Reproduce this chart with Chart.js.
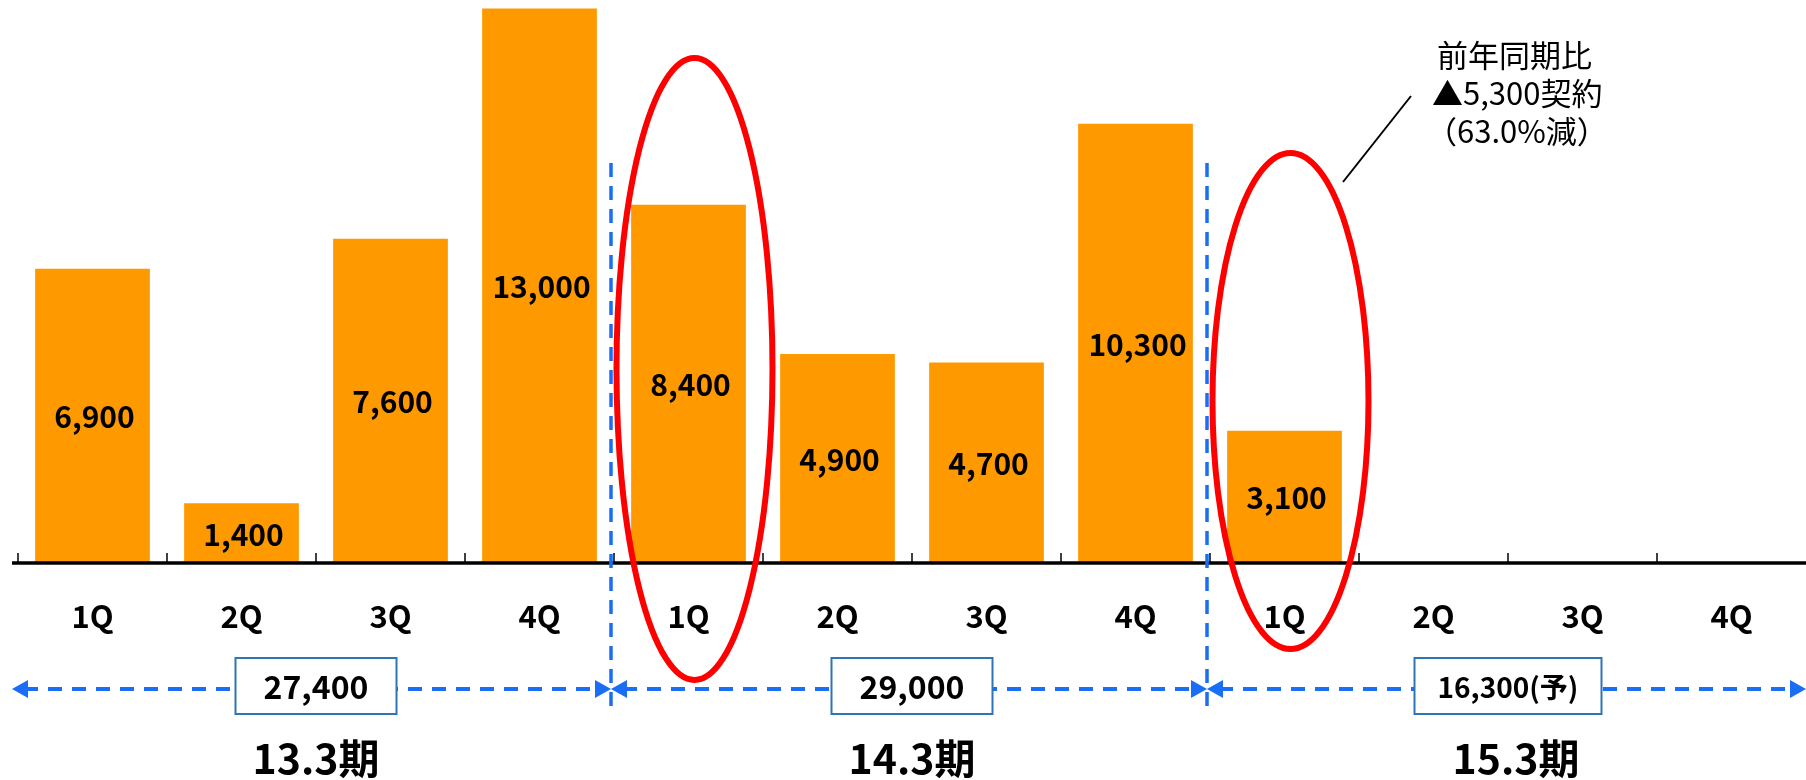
<!DOCTYPE html>
<html>
<head>
<meta charset="utf-8">
<script src="https://cdn.jsdelivr.net/npm/chart.js@4.4.1/dist/chart.umd.min.js"></script>
<style>
html, body { margin: 0; padding: 0; background: #fff; }
#wrap { width: 1806px; height: 780px; position: relative; }
</style>
</head>
<body>
<div id="wrap"><canvas id="contractChart"></canvas></div>
<script>
// quarterly contracts, three fiscal periods
const quarters = ['1Q', '2Q', '3Q', '4Q', '1Q', '2Q', '3Q', '4Q', '1Q', '2Q', '3Q', '4Q'];
const contracts = [6900, 1400, 7600, 13000, 8400, 4900, 4700, 10300, 3100, null, null, null];
const periods = ['13.3期', '14.3期', '15.3期'];
const periodTotals = ['27,400', '29,000', '16,300(予)'];
const noteLines = ['前年同期比', '▲5,300契約', '（63.0%減）'];
const circled = [4, 8];

const BLUE = '#1a6ef5';
const NUM_FONT = '"Noto Sans CJK JP", "DejaVu Sans", sans-serif';
const JP_FONT = '"Noto Sans CJK JP", sans-serif';

function arrowHead(ctx, x, y, dir) {
    ctx.beginPath();
    ctx.moveTo(x, y);
    ctx.lineTo(x - dir * 16, y - 9);
    ctx.lineTo(x - dir * 16, y + 9);
    ctx.closePath();
    ctx.fill();
}

const overlayPlugin = {
    id: 'overlay',
    afterDatasetsDraw(chart) {
        const ctx = chart.ctx;
        const meta = chart.getDatasetMeta(0);
        ctx.save();
        ctx.font = 'bold 30px ' + NUM_FONT;
        ctx.fillStyle = '#000';
        ctx.textAlign = 'center';
        ctx.textBaseline = 'middle';
        meta.data.forEach((bar, i) => {
            if (contracts[i] == null) return;
            ctx.fillText(contracts[i].toLocaleString('en-US'), bar.x + 2, (bar.y + bar.base) / 2 + 1);
        });
        ctx.restore();
    },
    afterDraw(chart) {
        const { ctx, chartArea, scales: { x } } = chart;
        const step = x.getPixelForValue(1) - x.getPixelForValue(0);
        const edge = i => x.getPixelForValue(i) - step / 2;
        const axisY = chartArea.bottom;
        ctx.save();

        // axis line and small upward ticks
        ctx.strokeStyle = '#000';
        ctx.lineWidth = 3.5;
        ctx.beginPath();
        ctx.moveTo(chartArea.left - 6, axisY);
        ctx.lineTo(chartArea.right, axisY);
        ctx.stroke();
        ctx.lineWidth = 1.5;
        for (let i = 0; i < quarters.length; i++) {
            ctx.beginPath();
            ctx.moveTo(edge(i), axisY);
            ctx.lineTo(edge(i), axisY - 10);
            ctx.stroke();
        }

        // period dividers
        ctx.strokeStyle = BLUE;
        ctx.fillStyle = BLUE;
        ctx.lineWidth = 3.5;
        ctx.setLineDash([14, 9]);
        [4, 8].forEach(i => {
            ctx.beginPath();
            ctx.moveTo(edge(i) - 3, 163);
            ctx.lineTo(edge(i) - 3, 708);
            ctx.stroke();
        });

        // period span arrows
        const arrowY = 689;
        const stops = [chartArea.left - 6, edge(4) - 3, edge(8) - 3, chartArea.right];
        ctx.lineWidth = 4;
        for (let s = 0; s < 3; s++) {
            const a = stops[s], b = stops[s + 1];
            ctx.setLineDash([14, 10]);
            ctx.beginPath();
            ctx.moveTo(a + 12, arrowY);
            ctx.lineTo(b - 12, arrowY);
            ctx.stroke();
            ctx.setLineDash([]);
            arrowHead(ctx, a, arrowY, -1);
            arrowHead(ctx, b, arrowY, 1);
        }

        // total boxes and period names
        ctx.setLineDash([]);
        periods.forEach((p, k) => {
            const cx = edge(k * 4 + 2);
            const w = k === 2 ? 187 : 161;
            ctx.fillStyle = '#fff';
            ctx.fillRect(cx - w / 2, 658, w, 56);
            ctx.strokeStyle = '#2e75b6';
            ctx.lineWidth = 2;
            ctx.strokeRect(cx - w / 2, 658, w, 56);
            ctx.fillStyle = '#000';
            ctx.textAlign = 'center';
            ctx.textBaseline = 'middle';
            ctx.font = 'bold ' + (k === 2 ? 28 : 32) + 'px ' + NUM_FONT;
            ctx.fillText(periodTotals[k], cx, 687);
            ctx.font = 'bold 41px ' + NUM_FONT;
            ctx.fillText(p, cx + (k === 2 ? 8 : 0), 758);
        });

        // red circles around compared quarters
        ctx.strokeStyle = '#ff0000';
        ctx.lineWidth = 6;
        const rings = [{ dy: 369, ry: 311 }, { dy: 401, ry: 248 }];
        circled.forEach((i, k) => {
            ctx.beginPath();
            ctx.ellipse(x.getPixelForValue(i) + 6, rings[k].dy, 78, rings[k].ry, 0, 0, Math.PI * 2);
            ctx.stroke();
        });

        // note with leader line
        ctx.strokeStyle = '#000';
        ctx.lineWidth = 2;
        ctx.beginPath();
        ctx.moveTo(1411, 96);
        ctx.lineTo(1343, 182);
        ctx.stroke();
        ctx.fillStyle = '#000';
        ctx.textAlign = 'left';
        ctx.textBaseline = 'middle';
        ctx.font = '31px ' + JP_FONT;
        noteLines.forEach((t, j) => {
            ctx.fillText(t, j === 2 ? 1426 : (j === 1 ? 1432 : 1437), 55 + j * 38);
        });
        ctx.restore();
    }
};

new Chart(document.getElementById('contractChart'), {
    type: 'bar',
    data: {
        labels: quarters,
        datasets: [{
            data: contracts,
            backgroundColor: '#ff9900',
            borderWidth: 0,
            categoryPercentage: 1,
            barPercentage: 0.77
        }]
    },
    options: {
        responsive: true,
        maintainAspectRatio: false,
        animation: false,
        layout: { padding: { left: 18, right: 0, top: 0, bottom: 0 } },
        plugins: {
            legend: { display: false },
            tooltip: { enabled: false }
        },
        scales: {
            x: {
                grid: { display: false, drawTicks: false },
                border: { display: false },
                ticks: {
                    color: '#000',
                    padding: 35,
                    font: { family: NUM_FONT, size: 31, weight: 'bold' }
                },
                afterFit(scale) { scale.height = 780 - 563; }
            },
            y: {
                display: false,
                min: 0,
                max: 13200
            }
        }
    },
    plugins: [overlayPlugin]
});
</script>
</body>
</html>
